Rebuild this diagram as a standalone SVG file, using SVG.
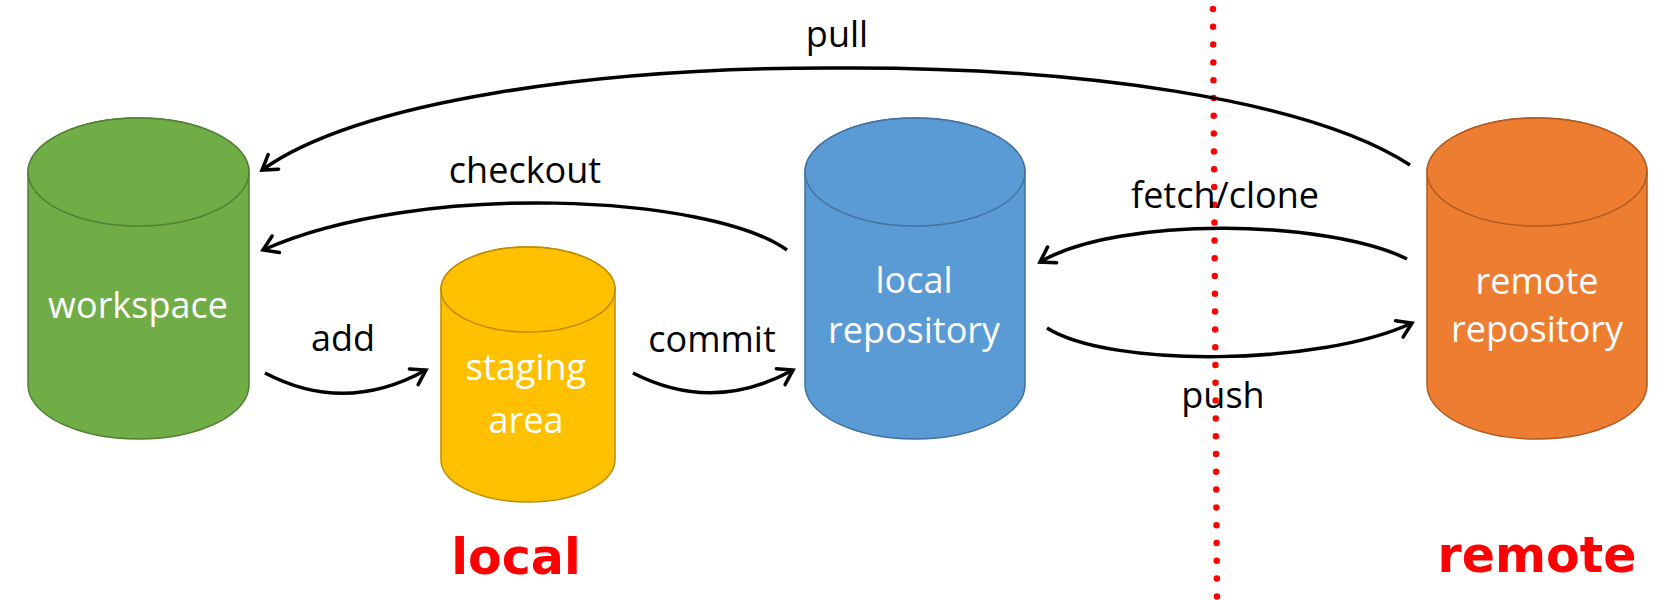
<svg xmlns="http://www.w3.org/2000/svg" width="1676" height="600" viewBox="0 0 1676 600">
<style>
.lbl{font-family:"Open Sans","Liberation Sans",sans-serif;font-size:36px;text-anchor:middle;fill:#000}
.cyl-t{font-family:"Open Sans","Liberation Sans",sans-serif;font-size:36px;text-anchor:middle;fill:#fff}
.zone{font-family:"DejaVu Sans","Liberation Sans",sans-serif;font-weight:bold;font-size:49px;text-anchor:middle;fill:#ff0000}
.edge{fill:none;stroke:#000;stroke-width:3.5;marker-end:url(#arr)}
.cyl{stroke-width:1.5}
</style>
<defs>
<marker id="arr" markerUnits="userSpaceOnUse" markerWidth="30" markerHeight="30" viewBox="-20 -15 30 30" refX="0" refY="0" orient="auto" overflow="visible">
<path d="M-14,-9 L0,0 L-14,9" fill="none" stroke="#000" stroke-width="3.5" stroke-linecap="round" stroke-linejoin="miter"/>
</marker>
</defs>
<rect width="1676" height="600" fill="#fff"/>

<g id="divider">
<line x1="1213" y1="9" x2="1217" y2="598" stroke="#ff0000" stroke-width="6.5" stroke-linecap="round" stroke-dasharray="0 17.8"/>
</g>

<g id="workspace" class="cyl" fill="#70AD47" stroke="#507E32">
<path d="M28,172 V385 A110.5,54 0 0 0 249,385 V172 A110.5,54 0 0 0 28,172 Z"/>
<ellipse cx="138.5" cy="172" rx="110.5" ry="54"/>
<text class="cyl-t" x="138" y="318" stroke="none">workspace</text>
</g>

<g id="staging" class="cyl" fill="#FFC000" stroke="#BC8C00">
<path d="M441,289.5 V459.5 A87,42.5 0 0 0 615,459.5 V289.5 A87,42.5 0 0 0 441,289.5 Z"/>
<ellipse cx="528" cy="289.5" rx="87" ry="42.5"/>
<text class="cyl-t" x="526" y="380" stroke="none">staging</text>
<text class="cyl-t" x="526" y="433" stroke="none">area</text>
</g>

<g id="local-repo" class="cyl" fill="#5B9BD5" stroke="#41719C">
<path d="M805,172 V385 A110,54 0 0 0 1025,385 V172 A110,54 0 0 0 805,172 Z"/>
<ellipse cx="915" cy="172" rx="110" ry="54"/>
<text class="cyl-t" x="914" y="293" stroke="none">local</text>
<text class="cyl-t" x="914" y="343" stroke="none">repository</text>
</g>

<g id="remote-repo" class="cyl" fill="#ED7D31" stroke="#AE5A21">
<path d="M1427,172 V385 A110,54 0 0 0 1647,385 V172 A110,54 0 0 0 1427,172 Z"/>
<ellipse cx="1537" cy="172" rx="110" ry="54"/>
<text class="cyl-t" x="1537" y="294" stroke="none">remote</text>
<text class="cyl-t" x="1537" y="342" stroke="none">repository</text>
</g>

<g id="connectors">
<path class="edge" d="M1410,165 C1310,100 1080,66 830,68 C600,68 360,100 262,170"/>
<path class="edge" d="M787,250 C710,195 420,180 263,250"/>
<path class="edge" d="M265,373 Q345,415 426,370"/>
<path class="edge" d="M633,373 Q713,414 793,370"/>
<path class="edge" d="M1407,259 C1330,220 1120,215 1040,262"/>
<path class="edge" d="M1047,328 C1110,368 1320,366 1412,323"/>
<text class="lbl" x="837" y="47">pull</text>
<text class="lbl" x="525" y="183">checkout</text>
<text class="lbl" x="343" y="351">add</text>
<text class="lbl" x="712" y="352">commit</text>
<text class="lbl" x="1225" y="208">fetch/clone</text>
<text class="lbl" x="1223" y="408">push</text>
</g>

<g id="zones">
<text class="zone" x="516" y="574">local</text>
<text class="zone" x="1537" y="572">remote</text>
</g>
</svg>
